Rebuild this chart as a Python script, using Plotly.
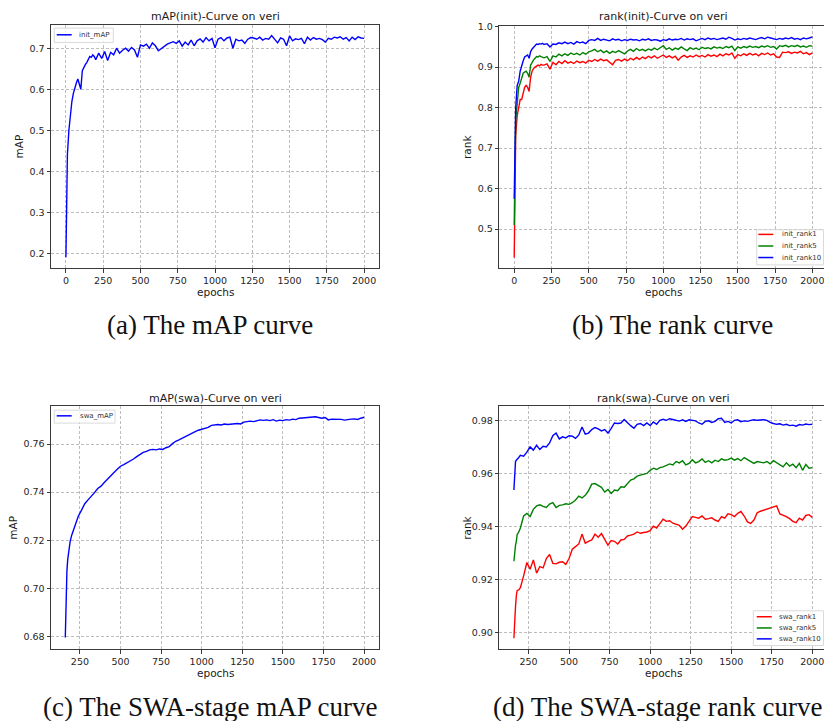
import plotly.graph_objects as go

# ---------------- data ----------------
epochs_init = list(range(0, 200, 10)) + list(range(200, 2001, 20))
epochs_swa = [160, 165, 170, 175, 180, 190, 200] + list(range(220, 2001, 20))

init_mAP = [0.19, 0.44, 0.50, 0.54, 0.57, 0.59, 0.605, 0.615, 0.625, 0.61,
            0.60, 0.645, 0.655, 0.66, 0.665, 0.675, 0.68, 0.678, 0.684, 0.68,
            0.672, 0.688, 0.675, 0.692, 0.670, 0.690, 0.684, 0.700, 0.688, 0.695,
            0.700, 0.693, 0.702, 0.696, 0.678, 0.708, 0.705, 0.710, 0.700, 0.713,
            0.706, 0.694, 0.700, 0.706, 0.710, 0.713, 0.716, 0.712, 0.718, 0.705,
            0.715, 0.708, 0.720, 0.706, 0.718, 0.723, 0.715, 0.726, 0.718, 0.724,
            0.701, 0.722, 0.726, 0.718, 0.725, 0.727, 0.700, 0.722, 0.718, 0.720,
            0.712, 0.722, 0.726, 0.725, 0.722, 0.727, 0.720, 0.724, 0.722, 0.731,
            0.722, 0.713, 0.725, 0.722, 0.706, 0.730, 0.718, 0.723, 0.721, 0.724,
            0.711, 0.727, 0.720, 0.726, 0.722, 0.724, 0.721, 0.715, 0.724, 0.722,
            0.727, 0.725, 0.728, 0.722, 0.726, 0.718, 0.727, 0.721, 0.728, 0.725,
            0.724]

init_rank1 = [0.43, 0.73, 0.78, 0.80, 0.82, 0.82, 0.835, 0.85, 0.855, 0.85,
              0.84, 0.875, 0.89, 0.897, 0.90, 0.903, 0.905, 0.903, 0.907, 0.905,
              0.905, 0.908, 0.895, 0.912, 0.906, 0.914, 0.909, 0.916, 0.910, 0.913,
              0.909, 0.915, 0.911, 0.914, 0.910, 0.917, 0.914, 0.919, 0.915, 0.920,
              0.916, 0.918, 0.912, 0.906, 0.917, 0.919, 0.915, 0.920, 0.916, 0.922,
              0.918, 0.924, 0.919, 0.925, 0.921, 0.927, 0.923, 0.928, 0.922, 0.926,
              0.930, 0.924, 0.928, 0.923, 0.927, 0.917, 0.925, 0.929, 0.924, 0.928,
              0.925, 0.930, 0.926, 0.929, 0.925, 0.931, 0.927, 0.930, 0.926, 0.932,
              0.928, 0.933, 0.930, 0.935, 0.922, 0.931, 0.928, 0.933, 0.929, 0.934,
              0.930, 0.933, 0.928, 0.934, 0.931, 0.935, 0.930, 0.933, 0.925, 0.924,
              0.937, 0.936, 0.938, 0.934, 0.937, 0.935, 0.939, 0.933, 0.936, 0.931,
              0.935]

init_rank5 = [0.51, 0.77, 0.81, 0.85, 0.86, 0.875, 0.885, 0.888, 0.89, 0.885,
              0.875, 0.905, 0.912, 0.918, 0.922, 0.926, 0.925, 0.928, 0.926, 0.925,
              0.923, 0.926, 0.914, 0.928, 0.925, 0.932, 0.928, 0.933, 0.929, 0.935,
              0.931, 0.934, 0.930, 0.936, 0.932, 0.938, 0.940, 0.944, 0.938, 0.942,
              0.936, 0.940, 0.934, 0.939, 0.936, 0.941, 0.937, 0.933, 0.940, 0.944,
              0.939, 0.946, 0.941, 0.944, 0.940, 0.945, 0.942, 0.947, 0.943, 0.949,
              0.953, 0.944, 0.948, 0.942, 0.947, 0.944, 0.950, 0.945, 0.941, 0.948,
              0.944, 0.947, 0.943, 0.949, 0.946, 0.948, 0.945, 0.950, 0.947, 0.949,
              0.946, 0.951, 0.948, 0.952, 0.941, 0.950, 0.947, 0.951, 0.948, 0.952,
              0.949, 0.951, 0.948, 0.952, 0.950, 0.953, 0.949, 0.951, 0.945, 0.953,
              0.951, 0.954, 0.950, 0.953, 0.951, 0.954, 0.950, 0.952, 0.949, 0.953,
              0.952]

init_rank10 = [0.575, 0.80, 0.855, 0.865, 0.89, 0.905, 0.915, 0.925, 0.927, 0.930,
               0.922, 0.938, 0.945, 0.950, 0.955, 0.957, 0.956, 0.958, 0.957, 0.959,
               0.956, 0.958, 0.950, 0.957, 0.956, 0.960, 0.958, 0.962, 0.958, 0.961,
               0.957, 0.963, 0.960, 0.962, 0.958, 0.966, 0.968, 0.966, 0.971, 0.966,
               0.969, 0.967, 0.965, 0.970, 0.967, 0.969, 0.965, 0.968, 0.966, 0.969,
               0.967, 0.968, 0.965, 0.969, 0.967, 0.970, 0.966, 0.968, 0.967, 0.964,
               0.968, 0.966, 0.970, 0.967, 0.969, 0.968, 0.971, 0.967, 0.970, 0.968,
               0.970, 0.965, 0.969, 0.971, 0.968, 0.972, 0.969, 0.971, 0.968, 0.970,
               0.972, 0.969, 0.974, 0.971, 0.967, 0.970, 0.968, 0.971, 0.969, 0.972,
               0.970, 0.968, 0.971, 0.973, 0.970, 0.974, 0.972, 0.970, 0.968, 0.971,
               0.969, 0.972, 0.970, 0.973, 0.969, 0.971, 0.968, 0.972, 0.970, 0.972,
               0.975]

swa_mAP = [0.6795, 0.7000, 0.7070, 0.7120, 0.7155, 0.7195, 0.7222,
           0.7262, 0.7300, 0.7325, 0.7352, 0.7368, 0.7382, 0.7398, 0.7415, 0.7425, 0.7440,
           0.7455, 0.7470, 0.7482, 0.7495, 0.7508, 0.7515, 0.7522, 0.7530, 0.7538, 0.7548,
           0.7558, 0.7566, 0.7570, 0.7576, 0.7578, 0.7576, 0.7580, 0.7578, 0.7585, 0.7590,
           0.7602, 0.7612, 0.7618, 0.7625, 0.7634, 0.7640, 0.7648, 0.7652, 0.7658, 0.7662,
           0.7666, 0.7670, 0.7678, 0.7680, 0.7682, 0.7680, 0.7684, 0.7682, 0.7684, 0.7686,
           0.7686, 0.7684, 0.7692, 0.7694, 0.7696, 0.7694, 0.7698, 0.7701, 0.7699, 0.7701,
           0.7698, 0.7702, 0.7696, 0.7700, 0.7698, 0.7702, 0.7700, 0.7704, 0.7702, 0.7708,
           0.7709, 0.7710, 0.7712, 0.7712, 0.7714, 0.7711, 0.7708, 0.7711, 0.7701, 0.7704,
           0.7704, 0.7705, 0.7703, 0.7700, 0.7703, 0.7704, 0.7705, 0.7703, 0.7708, 0.7712]

swa_rank1 = [0.8980, 0.9060, 0.9100, 0.9140, 0.9160, 0.9162, 0.9170,
             0.9215, 0.9265, 0.9240, 0.9275, 0.9225, 0.9250, 0.9245, 0.9280, 0.9295, 0.9262,
             0.9260, 0.9266, 0.9268, 0.9258, 0.9280, 0.9315, 0.9325, 0.9335, 0.9372, 0.9338,
             0.9345, 0.9350, 0.9372, 0.9360, 0.9374, 0.9352, 0.9330, 0.9348, 0.9345, 0.9335,
             0.9350, 0.9352, 0.9365, 0.9368, 0.9372, 0.9380, 0.9375, 0.9378, 0.9380, 0.9385,
             0.9402, 0.9395, 0.9410, 0.9428, 0.9420, 0.9422, 0.9413, 0.9410, 0.9405, 0.9390,
             0.9402, 0.9420, 0.9438, 0.9435, 0.9432, 0.9440, 0.9428, 0.9430, 0.9433, 0.9425,
             0.9420, 0.9438, 0.9432, 0.9448, 0.9445, 0.9438, 0.9450, 0.9457, 0.9440, 0.9418,
             0.9412, 0.9425, 0.9452, 0.9458, 0.9462, 0.9465, 0.9470, 0.9472, 0.9478, 0.9448,
             0.9444, 0.9438, 0.9430, 0.9420, 0.9415, 0.9432, 0.9425, 0.9442, 0.9445, 0.9435]

swa_rank5 = [0.9270, 0.9310, 0.9330, 0.9345, 0.9370, 0.9380, 0.9395,
             0.9440, 0.9450, 0.9438, 0.9465, 0.9478, 0.9482, 0.9476, 0.9472, 0.9485, 0.9490,
             0.9472, 0.9480, 0.9482, 0.9486, 0.9484, 0.9490, 0.9500, 0.9515, 0.9508, 0.9518,
             0.9535, 0.9560, 0.9562, 0.9555, 0.9548, 0.9530, 0.9540, 0.9525, 0.9538, 0.9535,
             0.9550, 0.9548, 0.9562, 0.9575, 0.9580, 0.9590, 0.9594, 0.9598, 0.9600, 0.9612,
             0.9620, 0.9615, 0.9622, 0.9625, 0.9630, 0.9636, 0.9632, 0.9645, 0.9640, 0.9648,
             0.9632, 0.9638, 0.9652, 0.9640, 0.9645, 0.9655, 0.9642, 0.9648, 0.9640, 0.9650,
             0.9645, 0.9655, 0.9650, 0.9652, 0.9658, 0.9650, 0.9656, 0.9648, 0.9660, 0.9652,
             0.9645, 0.9638, 0.9645, 0.9642, 0.9640, 0.9645, 0.9636, 0.9648, 0.9640, 0.9630,
             0.9625, 0.9640, 0.9628, 0.9635, 0.9622, 0.9638, 0.9612, 0.9634, 0.9620, 0.9622]

swa_rank10 = [0.9538, 0.9630, 0.9645, 0.9650, 0.9655, 0.9660, 0.9668,
              0.9665, 0.9680, 0.9700, 0.9688, 0.9706, 0.9690, 0.9702, 0.9700, 0.9715, 0.9742,
              0.9752, 0.9730, 0.9738, 0.9734, 0.9742, 0.9740, 0.9732, 0.9745, 0.9775, 0.9748,
              0.9752, 0.9765, 0.9773, 0.9768, 0.9760, 0.9765, 0.9752, 0.9770, 0.9790, 0.9788,
              0.9790, 0.9803, 0.9790, 0.9780, 0.9770, 0.9785, 0.9788, 0.9780, 0.9790, 0.9780,
              0.9794, 0.9785, 0.9800, 0.9804, 0.9800, 0.9806, 0.9803, 0.9800, 0.9797, 0.9802,
              0.9796, 0.9802, 0.9800, 0.9798, 0.9790, 0.9785, 0.9796, 0.9798, 0.9792, 0.9796,
              0.9806, 0.9808, 0.9792, 0.9796, 0.9790, 0.9800, 0.9802, 0.9795, 0.9798, 0.9796,
              0.9800, 0.9802, 0.9800, 0.9802, 0.9802, 0.9800, 0.9792, 0.9788, 0.9785, 0.9787,
              0.9782, 0.9785, 0.9780, 0.9782, 0.9778, 0.9784, 0.9782, 0.9786, 0.9784, 0.9785]

for s in (init_mAP, init_rank1, init_rank5, init_rank10):
    assert len(s) == len(epochs_init), len(s)
for s in (swa_mAP, swa_rank1, swa_rank5, swa_rank10):
    assert len(s) == len(epochs_swa), len(s)

titles = ["mAP(init)-Curve on veri", "rank(init)-Curve on veri",
          "mAP(swa)-Curve on veri", "rank(swa)-Curve on veri"]
ylabels = ["mAP", "rank", "mAP", "rank"]
captions = ["(a) The mAP curve", "(b) The rank curve",
            "(c) The SWA-stage mAP curve", "(d) The SWA-stage rank curve"]

# ---------------- layout helpers ----------------
W, H = 824, 721
def PX(x): return x / W
def PY(y): return 1 - y / H

BLUE, RED, GREEN = "#0000ff", "#ff0000", "#008000"
TICKFONT = dict(family="DejaVu Sans", size=9.5, color="#262626")
AXC = "#3a3a3a"
GRID = "#bdbdbd"

fig = go.Figure()

def add(x, y, color, xa, ya, name):
    fig.add_trace(go.Scatter(x=x, y=y, mode="lines", name=name,
                             line=dict(color=color, width=1.4),
                             xaxis=xa, yaxis=ya, showlegend=False))

add(epochs_init, init_mAP, BLUE, "x", "y", "init_mAP")
add(epochs_init, init_rank1, RED, "x2", "y2", "init_rank1")
add(epochs_init, init_rank5, GREEN, "x2", "y2", "init_rank5")
add(epochs_init, init_rank10, BLUE, "x2", "y2", "init_rank10")
add(epochs_swa, swa_mAP, BLUE, "x3", "y3", "swa_mAP")
add(epochs_swa, swa_rank1, RED, "x4", "y4", "swa_rank1")
add(epochs_swa, swa_rank5, GREEN, "x4", "y4", "swa_rank5")
add(epochs_swa, swa_rank10, BLUE, "x4", "y4", "swa_rank10")

# panel pixel boxes: (left, top, right, bottom)
boxes = [(51, 20, 379, 265), (499.3, 21, 824, 265),
         (51, 404, 379, 648.7), (499.3, 404.3, 824, 648.7)]
xranges = [[-100, 2100], [-100, 2078], [72, 2092], [70, 2072]]
yranges = [[0.1636, 0.757], [0.4035, 1.002], [0.6746, 0.7758], [0.8939, 0.9852]]
xticks = [list(range(0, 2001, 250)), list(range(0, 2001, 250)),
          list(range(250, 2001, 250)), list(range(250, 2001, 250))]
yticks = [[0.2, 0.3, 0.4, 0.5, 0.6, 0.7], [0.5, 0.6, 0.7, 0.8, 0.9, 1.0],
          [0.68, 0.70, 0.72, 0.74, 0.76], [0.90, 0.92, 0.94, 0.96, 0.98]]
yfmt = [".1f", ".1f", ".2f", ".2f"]
clipped_right = [False, True, False, True]

lay = {}
for i in range(4):
    l, t, r, b = boxes[i]
    sx = "" if i == 0 else str(i + 1)
    lay["xaxis" + sx] = dict(
        domain=[PX(l), min(PX(r), 1.0)], anchor="y" + sx, range=xranges[i],
        tickvals=xticks[i], ticks="outside", ticklen=3.5, tickwidth=0.8,
        tickcolor=AXC, tickfont=TICKFONT, showgrid=True, gridcolor=GRID,
        gridwidth=0.8, griddash="3px,2px", zeroline=False, showline=True,
        linecolor=AXC, linewidth=1, mirror=True, fixedrange=True,
        ticklabeloverflow="allow")
    lay["yaxis" + sx] = dict(
        domain=[PY(b), PY(t)], anchor="x" + sx, range=yranges[i],
        tickvals=yticks[i], tickformat=yfmt[i], ticks="outside", ticklen=3.5,
        tickwidth=0.8, tickcolor=AXC, tickfont=TICKFONT, showgrid=True,
        gridcolor=GRID, gridwidth=0.8, griddash="3px,2px", zeroline=False,
        showline=True, linecolor=AXC, linewidth=1,
        mirror=(False if clipped_right[i] else True), fixedrange=True,
        ticklabeloverflow="allow")

annotations = []
shapes = []
centers_x = [(51 + 379) / 2, (499.3 + 827) / 2, (51 + 379) / 2, (499.3 + 827) / 2]
title_y = [12, 12, 396, 396]
xlabel_y = [289, 289, 673, 673]
ylabel_x = [19, 467, 13, 467]
caption_xy = [(210, 322), (672, 322), (210, 707), (657, 707)]

for i in range(4):
    l, t, r, b = boxes[i]
    annotations.append(dict(text=titles[i], x=PX(centers_x[i]), y=PY(title_y[i]),
                            xref="paper", yref="paper", showarrow=False,
                            font=dict(family="DejaVu Sans", size=11, color="#1a1a1a"),
                            xanchor="center", yanchor="middle"))
    annotations.append(dict(text="epochs", x=PX(centers_x[i]), y=PY(xlabel_y[i]),
                            xref="paper", yref="paper", showarrow=False,
                            font=dict(family="DejaVu Sans", size=10.5, color="#1a1a1a"),
                            xanchor="center", yanchor="middle"))
    annotations.append(dict(text=ylabels[i], x=PX(ylabel_x[i]), y=PY((t + b) / 2),
                            xref="paper", yref="paper", showarrow=False, textangle=-90,
                            font=dict(family="DejaVu Sans", size=10.5, color="#1a1a1a"),
                            xanchor="center", yanchor="middle"))
    cx, cy = caption_xy[i]
    annotations.append(dict(text=captions[i], x=PX(cx), y=PY(cy),
                            xref="paper", yref="paper", showarrow=False,
                            font=dict(family="Liberation Serif", size=27, color="#111111"),
                            xanchor="center", yanchor="middle"))

# hand-built matplotlib-style legends (compact)
legends = [
    dict(box=(54.3, 23.3, 113.3, 37.7), rows=[30], names=["init_mAP"], colors=[BLUE],
         lx=(56.7, 71.7), tx=77.3),
    dict(box=(756.7, 226.3, 823.5, 261.7), rows=[231, 242.7, 254.3],
         names=["init_rank1", "init_rank5", "init_rank10"], colors=[RED, GREEN, BLUE],
         lx=(758.3, 773.3), tx=780),
    dict(box=(54.3, 408, 115, 421), rows=[413.7], names=["swa_mAP"], colors=[BLUE],
         lx=(56.7, 71.7), tx=77.7),
    dict(box=(753.3, 610, 823.5, 645), rows=[616, 627.3, 638.3],
         names=["swa_rank1", "swa_rank5", "swa_rank10"], colors=[RED, GREEN, BLUE],
         lx=(756.7, 771.7), tx=776.7),
]
for lg in legends:
    x0, y0, x1, y1 = lg["box"]
    shapes.append(dict(type="rect", xref="paper", yref="paper",
                       x0=PX(x0), x1=PX(x1), y0=PY(y1), y1=PY(y0),
                       line=dict(color="#d0d0d0", width=0.8),
                       fillcolor="rgba(255,255,255,0.85)"))
    for ry, nm, c in zip(lg["rows"], lg["names"], lg["colors"]):
        shapes.append(dict(type="line", xref="paper", yref="paper",
                           x0=PX(lg["lx"][0]), x1=PX(lg["lx"][1]),
                           y0=PY(ry), y1=PY(ry), line=dict(color=c, width=1.5)))
        annotations.append(dict(text=nm, x=PX(lg["tx"]), y=PY(ry), xref="paper",
                                yref="paper", showarrow=False, xanchor="left",
                                yanchor="middle",
                                font=dict(family="DejaVu Sans", size=7, color="#333333")))

fig.update_layout(
    width=W, height=H, margin=dict(l=0, r=0, t=0, b=0),
    paper_bgcolor="white", plot_bgcolor="white",
    annotations=annotations, shapes=shapes, showlegend=False, **lay)

fig.write_html(
    "out.html",
    config={"displayModeBar": False},
    post_script=("document.documentElement.style.margin='0';"
                 "document.body.style.margin='0';document.body.style.padding='0';"
                 "document.documentElement.style.overflow='hidden';"))
